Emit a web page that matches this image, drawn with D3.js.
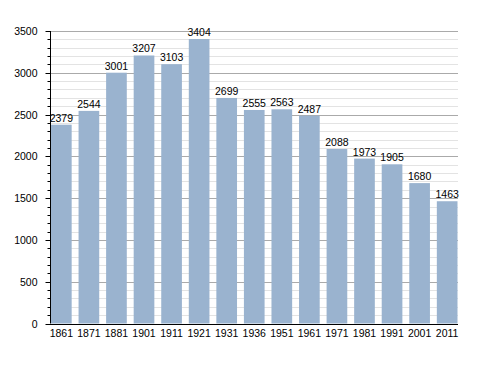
<!DOCTYPE html>
<html><head><meta charset="utf-8">
<script src="https://cdn.jsdelivr.net/npm/d3@7"></script>
<style>body{margin:0;background:#fff;}svg{display:block;}text{font-family:"Liberation Sans",Arial,sans-serif;}</style>
</head><body><svg id="c" width="488" height="373"></svg>
<script>
const years = ["1861","1871","1881","1901","1911","1921","1931","1936","1951","1961","1971","1981","1991","2001","2011"];
const population = [2379,2544,3001,3207,3103,3404,2699,2555,2563,2487,2088,1973,1905,1680,1463];
const yMajorTicks = [0,500,1000,1500,2000,2500,3000,3500];

const svg = d3.select("#c");
const x = d3.scaleBand().domain(years).range([51, 457.5]).paddingInner(0.25).paddingOuter(0);
const y = d3.scaleLinear().domain([0,3500]).range([323.5, 31]);
const x0 = 50, x1 = 458;
const fs = 10.5;

const minor = d3.range(0, 3501, 100).filter(v => v % 500 !== 0);
svg.append("g").selectAll("line").data(minor).join("line")
  .attr("x1", x0).attr("x2", x1).attr("y1", d => Math.round(y(d))+0.5).attr("y2", d => Math.round(y(d))+0.5)
  .attr("stroke", "#e3e3e3").attr("stroke-width", 1);
svg.append("g").selectAll("line").data(yMajorTicks.filter(v=>v>0)).join("line")
  .attr("x1", x0).attr("x2", x1).attr("y1", d => Math.round(y(d))+0.5).attr("y2", d => Math.round(y(d))+0.5)
  .attr("stroke", "#aaaaaa").attr("stroke-width", 1);

svg.append("g").selectAll("rect").data(population).join("rect")
  .attr("x", (d,i) => x(years[i])).attr("width", x.bandwidth())
  .attr("y", d => y(d)).attr("height", d => y(0) - y(d))
  .attr("fill", "#9ab3cf");

svg.append("g").selectAll("text").data(population).join("text")
  .attr("x", (d,i) => x(years[i]) + x.bandwidth()/2).attr("y", d => y(d) - 3)
  .attr("text-anchor", "middle").attr("font-size", fs).attr("fill", "#000").text(d => d);

// y axis
const ya = svg.append("g").attr("transform", `translate(${x0+0.5},0)`);
ya.append("line").attr("y1", y(3500)).attr("y2", y(0)).attr("stroke", "#000");
ya.selectAll("line.mi").data(minor).join("line").attr("class","mi")
  .attr("x1", -3).attr("x2", 0).attr("y1", d => Math.round(y(d))+0.5).attr("y2", d => Math.round(y(d))+0.5).attr("stroke", "#000");
ya.selectAll("line.ma").data(yMajorTicks).join("line").attr("class","ma")
  .attr("x1", -5).attr("x2", 0).attr("y1", d => Math.round(y(d))+0.5).attr("y2", d => Math.round(y(d))+0.5).attr("stroke", "#000");
ya.selectAll("text").data(yMajorTicks).join("text")
  .attr("x", -13).attr("y", d => y(d) + 4).attr("text-anchor", "end").attr("font-size", fs).text(d => d);

// x axis
svg.append("line").attr("x1", x0).attr("x2", x1).attr("y1", Math.round(y(0))+0.5).attr("y2", Math.round(y(0))+0.5).attr("stroke", "#000");
svg.append("g").selectAll("text").data(years).join("text")
  .attr("x", d => x(d) + x.bandwidth()/2).attr("y", 336.5).attr("text-anchor", "middle").attr("font-size", fs).text(d => d);
</script></body></html>
